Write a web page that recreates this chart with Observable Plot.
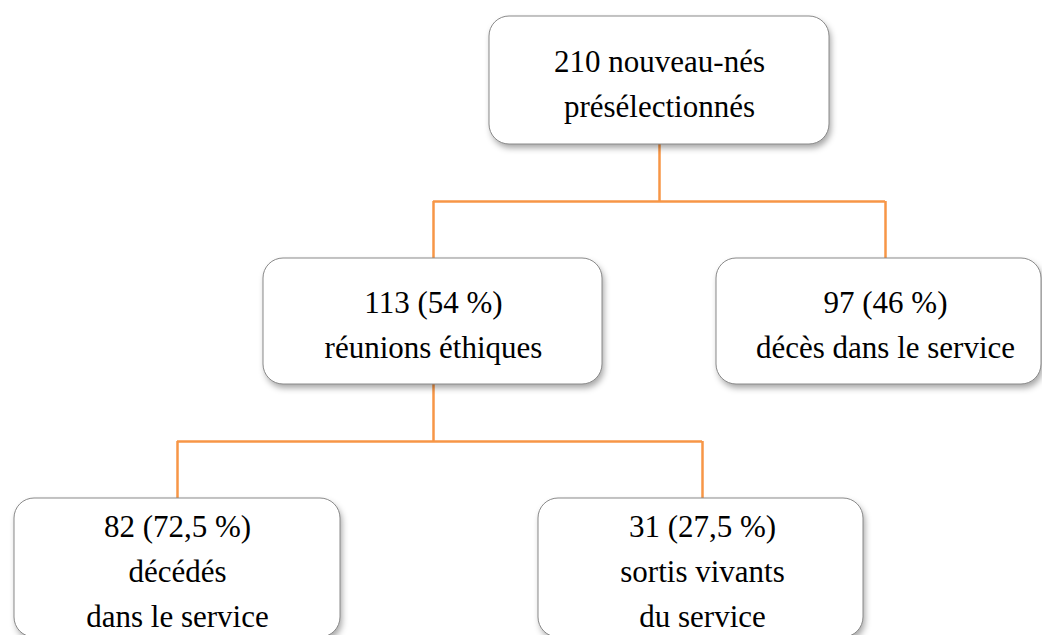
<!DOCTYPE html>
<html>
<head>
<meta charset="utf-8">
<script src="https://cdn.jsdelivr.net/npm/d3@7"></script>
<script src="https://cdn.jsdelivr.net/npm/@observablehq/plot@0.6"></script>
<style>
  html, body { margin: 0; padding: 0; background: #fff; overflow: hidden; }
  svg text { font-family: "Liberation Serif", "Times New Roman", Times, "DejaVu Serif", serif !important; }
</style>
</head>
<body>
<div id="chart"></div>
<script>
// ---- data: the flow of newborns ----
const nodeIds     = ["root", "ethics", "deadDirect", "deadAfter", "alive"];
const nodeLabels  = [
  "210 nouveau-nés\nprésélectionnés",
  "113 (54 %)\nréunions éthiques",
  "97 (46 %)\ndécès dans le service",
  "82 (72,5 %)\ndécédés\ndans le service",
  "31 (27,5 %)\nsortis vivants\ndu service"
];
const nodeParents = [null, "root", "root", "ethics", "ethics"];
const nodeLevels  = [0, 1, 1, 2, 2];

// ---- diagram geometry (layout, separate from data) ----
const W = 1042, H = 635;
const levelTop    = [16, 258, 498];
const levelBottom = [144, 384, 637];
const boxLeft  = {root: 489, ethics: 263, deadDirect: 716, deadAfter: 14,  alive: 538};
const boxRight = {root: 829, ethics: 602, deadDirect: 1041, deadAfter: 340, alive: 863};
const anchorX  = {root: 659, ethics: 433, deadDirect: 885, deadAfter: 177, alive: 702};

const nodes = nodeIds.map((id, i) => ({
  id,
  label: nodeLabels[i],
  parent: nodeParents[i],
  level: nodeLevels[i],
  x1: boxLeft[id], x2: boxRight[id],
  y1: levelTop[nodeLevels[i]], y2: levelBottom[nodeLevels[i]],
  cx: anchorX[id],
  cy: (levelTop[nodeLevels[i]] + levelBottom[nodeLevels[i]]) / 2
}));

// connectors (elbow style)
const vSegs = [], hSegs = [];
for (const p of nodes) {
  const kids = nodes.filter(n => n.parent === p.id);
  if (!kids.length) continue;
  const elbow = (p.y2 + kids[0].y1) / 2;
  vSegs.push({x: p.cx, y1: p.y2, y2: elbow});
  hSegs.push({y: elbow, x1: d3.min(kids, k => k.cx), x2: d3.max(kids, k => k.cx)});
  for (const k of kids) vSegs.push({x: k.cx, y1: elbow, y2: k.y1});
}

const orange = "#F79646";

const chart = Plot.plot({
  width: W,
  height: H,
  margin: 0,
  x: {domain: [0, W], range: [0, W], axis: null},
  y: {domain: [0, H], range: [0, H], axis: null},
  style: {background: "#fff"},
  marks: [
    Plot.ruleX(vSegs, {x: "x", y1: "y1", y2: "y2", stroke: orange, strokeWidth: 2.5}),
    Plot.ruleY(hSegs, {y: "y", x1: "x1", x2: "x2", stroke: orange, strokeWidth: 2.5}),
    Plot.rect(nodes, {
      x1: "x1", x2: "x2", y1: "y1", y2: "y2",
      rx: 20, fill: "#000", fillOpacity: 0.35, dx: 2, dy: 4,
      imageFilter: "blur(3px)"
    }),
    Plot.rect(nodes, {
      x1: "x1", x2: "x2", y1: "y1", y2: "y2",
      rx: 20, fill: "#fff", stroke: "#8a8a8a", strokeWidth: 1
    }),
    Plot.text(nodes, {
      x: "cx", y: "cy", text: "label",
      fontFamily: "Liberation Serif",
      fontSize: 31, lineHeight: 1.45, lineAnchor: "middle",
      fill: "#000"
    })
  ]
});

document.getElementById("chart").appendChild(chart);
</script>
</body>
</html>
